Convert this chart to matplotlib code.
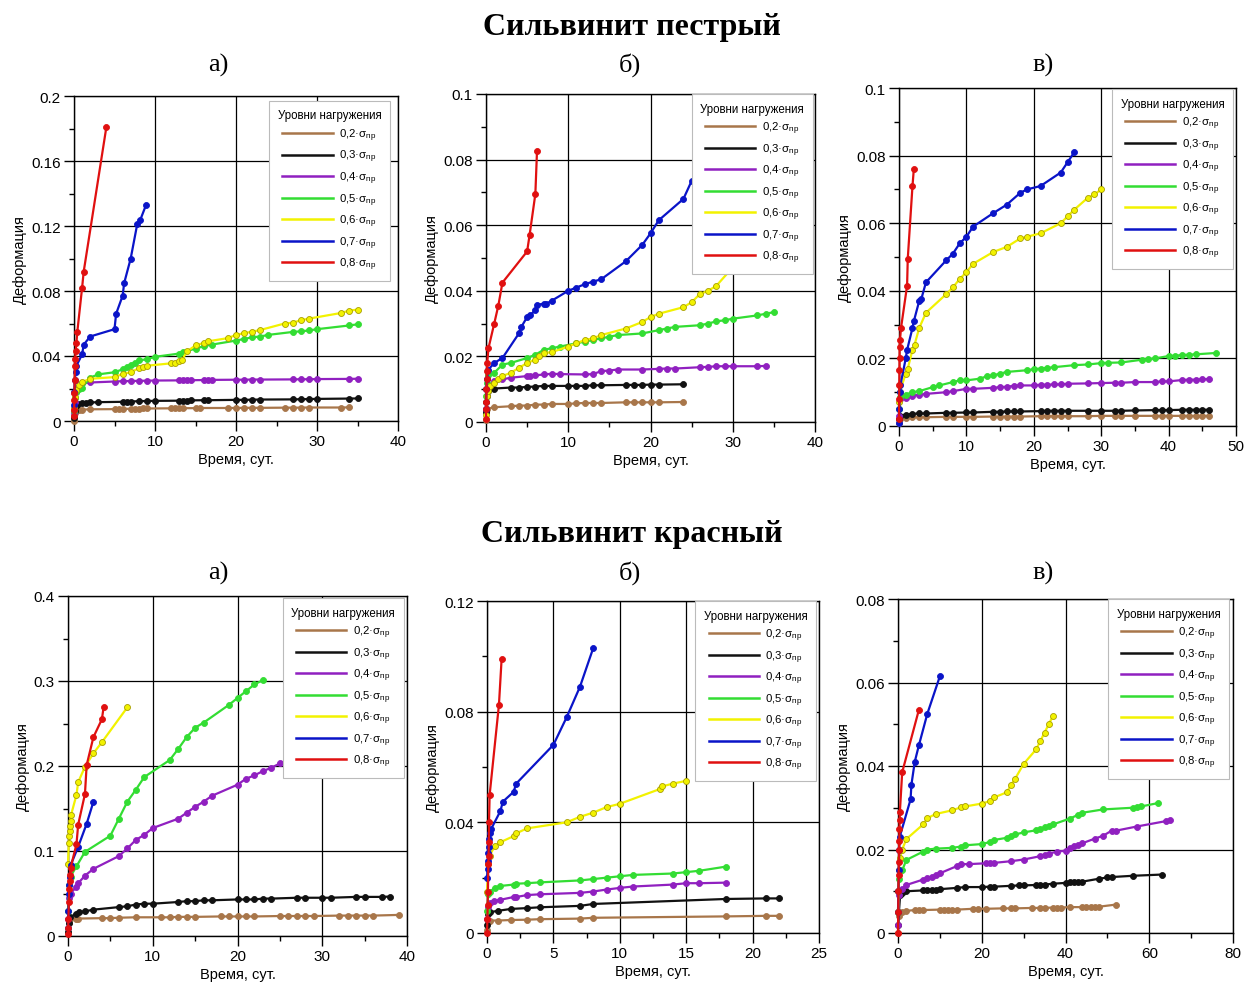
import matplotlib
matplotlib.use("Agg")
import matplotlib.pyplot as plt
from matplotlib.lines import Line2D
from matplotlib.ticker import MultipleLocator, FuncFormatter

plt.rcParams['font.family'] = ['Liberation Sans', 'DejaVu Sans']
plt.rcParams['mathtext.fontset'] = 'custom'
plt.rcParams['mathtext.rm'] = 'Liberation Sans'
plt.rcParams['mathtext.it'] = 'Liberation Sans:italic'
plt.rcParams['mathtext.bf'] = 'Liberation Sans:bold'

# ---------------- data ----------------
levels = ['0,2', '0,3', '0,4', '0,5', '0,6', '0,7', '0,8']
colors = ['#A8764A', '#111111', '#9020C0', '#33DD33', '#F2F200', '#0A14C8', '#E01010']
legend_title = 'Уровни нагружения'
section_titles = ['Сильвинит пестрый', 'Сильвинит красный']
panel_letters = ['а)', 'б)', 'в)']
xlabel_text = 'Время, сут.'
ylabel_text = 'Деформация'

# Сильвинит пестрый, а)
pa_t02 = [0, 0.05, 0.15, 0.3, 0.6, 1, 2, 5, 5.5, 6, 7, 7.5, 8, 8.5, 9, 12, 12.5, 13, 13.5, 15, 15.5, 19, 20, 21, 22, 23, 26, 27, 28, 29, 33, 34]
pa_e02 = [0, 0.003, 0.005, 0.0065, 0.0068, 0.007, 0.0072, 0.0073, 0.0074, 0.0075, 0.0075, 0.0076, 0.0076, 0.0077, 0.0077, 0.0078, 0.0078, 0.0079, 0.0079, 0.0079, 0.008, 0.008, 0.008, 0.0081, 0.0081, 0.0081, 0.0082, 0.0082, 0.0082, 0.0083, 0.0083, 0.0084]
pa_t03 = [0, 0.1, 0.2, 0.5, 1, 1.5, 2, 3, 6, 6.5, 7, 8, 9, 10, 13, 13.5, 14, 14.5, 16, 16.5, 20, 21, 22, 23, 27, 28, 29, 30, 34, 35]
pa_e03 = [0.002, 0.006, 0.009, 0.0105, 0.011, 0.0112, 0.0114, 0.0116, 0.0118, 0.012, 0.012, 0.0122, 0.0123, 0.0124, 0.0125, 0.0126, 0.0126, 0.0127, 0.0128, 0.0128, 0.013, 0.013, 0.0131, 0.0132, 0.0133, 0.0134, 0.0135, 0.0136, 0.0138, 0.0139]
pa_t04 = [0, 0.1, 0.2, 0.5, 1, 2, 5, 6, 7, 8, 9, 10, 13, 13.5, 14, 14.5, 16, 16.5, 17, 20, 21, 22, 23, 27, 28, 29, 30, 34, 35]
pa_e04 = [0.005, 0.012, 0.018, 0.021, 0.0232, 0.0237, 0.0243, 0.0245, 0.0246, 0.0247, 0.0248, 0.0249, 0.025, 0.025, 0.0251, 0.0251, 0.0252, 0.0252, 0.0253, 0.0254, 0.0254, 0.0255, 0.0255, 0.0256, 0.0257, 0.0257, 0.0258, 0.0259, 0.026]
pa_t05 = [0, 0.1, 0.3, 0.6, 1, 2, 3, 5, 6, 6.5, 7, 7.5, 8, 9, 10, 13, 13.5, 15, 16, 17, 20, 21, 22, 23, 24, 27, 28, 29, 30, 34, 35]
pa_e05 = [0.006, 0.014, 0.018, 0.0195, 0.0205, 0.0267, 0.0287, 0.030, 0.0318, 0.033, 0.0345, 0.0355, 0.0373, 0.038, 0.0395, 0.0415, 0.0425, 0.0445, 0.046, 0.047, 0.0495, 0.0505, 0.0515, 0.052, 0.053, 0.0548, 0.0552, 0.0557, 0.0565, 0.0588, 0.0595]
pa_t06 = [0, 0.1, 0.3, 0.6, 1, 2, 5, 6, 7, 8, 8.5, 9, 12, 12.5, 13, 13.3, 14, 15, 16, 16.5, 19, 20, 21, 22, 23, 26, 27, 28, 29, 33, 34, 35]
pa_e06 = [0.008, 0.015, 0.019, 0.022, 0.024, 0.026, 0.027, 0.029, 0.030, 0.0325, 0.033, 0.034, 0.0355, 0.036, 0.037, 0.0375, 0.043, 0.0465, 0.048, 0.049, 0.051, 0.053, 0.054, 0.055, 0.056, 0.060, 0.0605, 0.062, 0.063, 0.0665, 0.068, 0.0685]
pa_t07 = [0, 0.05, 0.1, 0.2, 0.3, 1, 1.2, 2, 5, 5.2, 6, 6.2, 7, 7.8, 8.2, 8.9]
pa_e07 = [0.01, 0.018, 0.025, 0.030, 0.034, 0.041, 0.047, 0.052, 0.0565, 0.066, 0.077, 0.085, 0.100, 0.121, 0.124, 0.133]
pa_t08 = [0, 0.02, 0.04, 0.06, 0.08, 0.1, 0.15, 0.2, 0.3, 0.4, 1, 1.2, 4]
pa_e08 = [0.003, 0.007, 0.013, 0.0175, 0.025, 0.034, 0.038, 0.043, 0.048, 0.0545, 0.082, 0.092, 0.181]

# Сильвинит пестрый, б)
pb_t02 = [0, 0.05, 0.1, 1, 3, 4, 5, 6, 7, 8, 10, 11, 12, 13, 14, 17, 18, 19, 20, 21, 24]
pb_e02 = [0.0005, 0.003, 0.004, 0.0045, 0.0048, 0.005, 0.005, 0.0053, 0.0053, 0.0055, 0.0055, 0.0057, 0.0058, 0.0058, 0.0058, 0.006, 0.006, 0.006, 0.006, 0.006, 0.0061]
pb_t03 = [0, 0.05, 0.1, 0.2, 1, 3, 4, 5, 6, 7, 8, 10, 11, 12, 13, 14, 17, 18, 19, 20, 21, 24]
pb_e03 = [0.003, 0.006, 0.008, 0.0095, 0.0102, 0.0105, 0.0105, 0.0107, 0.0108, 0.011, 0.011, 0.011, 0.011, 0.011, 0.0112, 0.0112, 0.0113, 0.0113, 0.0113, 0.0114, 0.0114, 0.0115]
pb_t04 = [0, 0.1, 0.3, 1, 2, 3, 5, 5.3, 6, 7, 8, 9, 12, 13, 14, 15, 16, 19, 21, 22, 23, 26, 27, 28, 29, 30, 33, 34]
pb_e04 = [0.004, 0.01, 0.011, 0.0125, 0.013, 0.0135, 0.014, 0.014, 0.0142, 0.0145, 0.0147, 0.0146, 0.0145, 0.0146, 0.0155, 0.0157, 0.016, 0.016, 0.0162, 0.0163, 0.0163, 0.0167, 0.0168, 0.017, 0.017, 0.017, 0.017, 0.0171]
pb_t05 = [0, 0.1, 0.2, 1, 2, 3, 5, 6, 7, 8, 9, 11, 12, 13, 14, 15, 16, 19, 21, 22, 23, 26, 27, 28, 29, 30, 33, 34, 35]
pb_e05 = [0.008, 0.012, 0.0142, 0.015, 0.0175, 0.018, 0.0195, 0.0205, 0.022, 0.0225, 0.023, 0.024, 0.0245, 0.025, 0.0255, 0.026, 0.0265, 0.027, 0.028, 0.0285, 0.029, 0.0295, 0.030, 0.0307, 0.031, 0.0315, 0.0325, 0.033, 0.0335]
pb_t06 = [0, 0.1, 0.2, 0.5, 1, 1.5, 2, 3, 4, 5, 6, 6.5, 7, 8, 10, 11, 12, 13, 14, 17, 19, 20, 21, 24, 25, 26, 27, 28, 31]
pb_e06 = [0.002, 0.008, 0.0095, 0.011, 0.012, 0.013, 0.014, 0.015, 0.0165, 0.018, 0.019, 0.020, 0.021, 0.0213, 0.023, 0.024, 0.025, 0.0255, 0.0265, 0.0285, 0.0305, 0.032, 0.033, 0.035, 0.0365, 0.039, 0.040, 0.0415, 0.050]
pb_t07 = [0, 0.05, 0.1, 0.3, 1, 2, 4, 4.3, 5, 5.3, 6, 6.2, 7, 7.3, 8, 10, 11, 12, 13, 14, 17, 19, 20, 21, 24, 25, 27]
pb_e07 = [0.004, 0.01, 0.013, 0.016, 0.018, 0.0195, 0.027, 0.029, 0.032, 0.0325, 0.034, 0.0358, 0.036, 0.036, 0.037, 0.040, 0.041, 0.042, 0.0428, 0.0435, 0.049, 0.054, 0.0575, 0.0615, 0.068, 0.0735, 0.078]
pb_t08 = [0, 0.02, 0.04, 0.06, 0.08, 0.1, 0.15, 0.3, 1, 1.5, 2, 5, 5.3, 6, 6.2]
pb_e08 = [0.001, 0.004, 0.006, 0.01, 0.013, 0.0155, 0.018, 0.0225, 0.030, 0.0355, 0.0425, 0.052, 0.057, 0.0695, 0.0825]

# Сильвинит пестрый, в)
pv_t02 = [0, 0.1, 1, 2, 3, 4, 7, 8, 10, 11, 14, 15, 16, 17, 18, 21, 22, 23, 24, 25, 28, 30, 32, 33, 35, 38, 39, 40, 42, 43, 44, 45, 46]
pv_e02 = [0.001, 0.0022, 0.0025, 0.0026, 0.0026, 0.0026, 0.0027, 0.0027, 0.0027, 0.0027, 0.0028, 0.0028, 0.0028, 0.0028, 0.0028, 0.0029, 0.0029, 0.0029, 0.0029, 0.0029, 0.0029, 0.003, 0.003, 0.003, 0.003, 0.003, 0.003, 0.003, 0.003, 0.003, 0.003, 0.003, 0.003]
pv_t03 = [0, 0.1, 1, 2, 3, 4, 7, 8, 10, 11, 14, 15, 16, 17, 18, 21, 22, 23, 24, 25, 28, 30, 32, 33, 35, 38, 39, 40, 42, 43, 44, 45, 46]
pv_e03 = [0.002, 0.003, 0.0034, 0.0036, 0.0037, 0.0037, 0.0039, 0.0039, 0.004, 0.004, 0.0042, 0.0042, 0.0043, 0.0043, 0.0043, 0.0044, 0.0045, 0.0045, 0.0045, 0.0045, 0.0045, 0.0045, 0.0045, 0.0045, 0.0046, 0.0047, 0.0047, 0.0047, 0.0048, 0.0048, 0.0048, 0.0048, 0.0048]
pv_t04 = [0, 0.1, 1, 2, 3, 4, 7, 8, 10, 11, 14, 15, 16, 17, 18, 20, 21, 22, 23, 24, 25, 28, 30, 32, 33, 35, 38, 39, 40, 42, 43, 44, 45, 46]
pv_e04 = [0.003, 0.008, 0.0082, 0.009, 0.0093, 0.0095, 0.010, 0.0103, 0.011, 0.011, 0.0113, 0.0115, 0.0116, 0.0119, 0.012, 0.012, 0.0122, 0.0122, 0.0123, 0.0123, 0.0125, 0.0126, 0.0127, 0.0128, 0.0128, 0.013, 0.013, 0.0132, 0.0132, 0.0136, 0.0137, 0.0137, 0.0138, 0.0139]
pv_t05 = [0, 0.1, 1, 2, 3, 5, 6, 8, 9, 10, 12, 13, 14, 15, 16, 19, 20, 21, 22, 23, 26, 28, 30, 31, 33, 36, 37, 38, 40, 41, 42, 43, 44, 47]
pv_e05 = [0.005, 0.0085, 0.0093, 0.010, 0.0103, 0.0115, 0.012, 0.013, 0.0135, 0.0135, 0.014, 0.0147, 0.015, 0.0155, 0.016, 0.0165, 0.0168, 0.017, 0.0172, 0.0174, 0.018, 0.0182, 0.0186, 0.0187, 0.0188, 0.0196, 0.0198, 0.020, 0.0207, 0.0208, 0.021, 0.0211, 0.0212, 0.0216]
pv_t06 = [0, 0.1, 1, 1.3, 2, 2.3, 3, 4, 7, 8, 9, 10, 11, 14, 16, 18, 19, 21, 24, 25, 26, 28, 29, 30]
pv_e06 = [0.007, 0.010, 0.0155, 0.017, 0.0225, 0.024, 0.029, 0.0335, 0.039, 0.041, 0.0435, 0.0455, 0.048, 0.0515, 0.053, 0.0555, 0.056, 0.057, 0.060, 0.062, 0.064, 0.0675, 0.0685, 0.070]
pv_t07 = [0, 0.05, 0.1, 0.2, 1, 1.2, 2, 2.2, 3, 3.3, 4, 7, 8, 9, 10, 11, 14, 16, 18, 19, 21, 24, 25, 26]
pv_e07 = [0.001, 0.005, 0.01, 0.012, 0.020, 0.0225, 0.029, 0.031, 0.037, 0.0375, 0.0425, 0.049, 0.051, 0.054, 0.056, 0.059, 0.063, 0.0655, 0.069, 0.070, 0.071, 0.075, 0.078, 0.081]
pv_t08 = [0, 0.02, 0.04, 0.06, 0.08, 0.1, 0.15, 0.3, 1.2, 1.3, 2, 2.2]
pv_e08 = [0.002, 0.008, 0.012, 0.0165, 0.020, 0.0235, 0.0255, 0.029, 0.0415, 0.0495, 0.071, 0.076]

# Сильвинит красный, а)
ka_t02 = [0, 0.1, 0.2, 1, 1.2, 4, 5, 6, 8, 11, 12, 13, 14, 15, 18, 19, 20, 21, 22, 25, 26, 27, 28, 29, 32, 33, 34, 35, 36, 39]
ka_e02 = [0.005, 0.015, 0.02, 0.0204, 0.0205, 0.021, 0.021, 0.0215, 0.022, 0.022, 0.022, 0.0225, 0.0225, 0.0225, 0.023, 0.023, 0.023, 0.023, 0.023, 0.0235, 0.0235, 0.0235, 0.0235, 0.0235, 0.024, 0.024, 0.024, 0.024, 0.024, 0.0248]
ka_t03 = [0, 0.1, 0.2, 1, 1.3, 2, 3, 6, 7, 8, 9, 10, 13, 14, 15, 16, 17, 20, 21, 22, 23, 24, 27, 28, 30, 31, 34, 35, 37, 38]
ka_e03 = [0.005, 0.015, 0.022, 0.0263, 0.028, 0.029, 0.031, 0.034, 0.035, 0.037, 0.038, 0.038, 0.040, 0.041, 0.041, 0.042, 0.042, 0.043, 0.043, 0.043, 0.044, 0.044, 0.045, 0.045, 0.045, 0.045, 0.046, 0.046, 0.046, 0.0464]
ka_t04 = [0, 0.1, 0.3, 1, 1.2, 2, 3, 6, 7, 8, 9, 10, 13, 14, 15, 16, 17, 20, 21, 22, 23, 24, 25, 26.5]
ka_e04 = [0.02, 0.045, 0.05, 0.058, 0.062, 0.071, 0.079, 0.094, 0.103, 0.113, 0.119, 0.127, 0.138, 0.145, 0.152, 0.158, 0.165, 0.178, 0.185, 0.189, 0.194, 0.198, 0.203, 0.208]
ka_t05 = [0, 0.1, 0.3, 1, 2, 5, 6, 7, 8, 9, 12, 13, 14, 15, 16, 19, 20, 21, 22, 23]
ka_e05 = [0.03, 0.06, 0.07, 0.082, 0.099, 0.118, 0.138, 0.158, 0.172, 0.187, 0.207, 0.220, 0.234, 0.245, 0.251, 0.272, 0.280, 0.288, 0.296, 0.301]
ka_t06 = [0, 0.1, 0.15, 0.2, 0.25, 0.3, 0.35, 1, 1.2, 2, 3, 4, 7]
ka_e06 = [0.085, 0.11, 0.118, 0.124, 0.13, 0.135, 0.142, 0.166, 0.181, 0.199, 0.215, 0.228, 0.269]
ka_t07 = [0, 0.05, 0.1, 0.15, 0.2, 0.3, 1.2, 2.2, 3]
ka_e07 = [0.01, 0.03, 0.05, 0.06, 0.07, 0.083, 0.105, 0.132, 0.158]
ka_t08 = [0, 0.02, 0.05, 0.1, 0.15, 0.2, 0.25, 0.3, 1, 1.2, 2, 2.2, 3, 4, 4.2]
ka_e08 = [0.002, 0.01, 0.02, 0.04, 0.055, 0.065, 0.072, 0.08, 0.108, 0.131, 0.167, 0.201, 0.234, 0.255, 0.269]

# Сильвинит красный, б)
kb_t02 = [0, 0.1, 0.2, 0.8, 1.8, 3, 4, 7, 8, 18, 21, 22]
kb_e02 = [0.001, 0.004, 0.0045, 0.0045, 0.0047, 0.0048, 0.005, 0.0052, 0.0055, 0.006, 0.0062, 0.0062]
kb_t03 = [0, 0.1, 0.2, 0.8, 1.8, 3, 4, 7, 8, 18, 21, 22]
kb_e03 = [0.003, 0.007, 0.0075, 0.008, 0.0087, 0.009, 0.0093, 0.0098, 0.0105, 0.0123, 0.0125, 0.0125]
kb_t04 = [0, 0.1, 0.2, 0.5, 1, 2, 2.2, 3, 4, 7, 8, 9, 10, 11, 14, 15, 16, 18]
kb_e04 = [0.005, 0.0095, 0.011, 0.0115, 0.012, 0.013, 0.013, 0.0137, 0.014, 0.0145, 0.015, 0.0157, 0.0163, 0.0168, 0.0175, 0.018, 0.018, 0.0182]
kb_t05 = [0, 0.1, 0.2, 0.6, 1, 2, 2.2, 3, 4, 7, 8, 9, 10, 11, 14, 15, 16, 18]
kb_e05 = [0.008, 0.014, 0.015, 0.0163, 0.017, 0.0175, 0.0178, 0.018, 0.0183, 0.019, 0.0195, 0.020, 0.0205, 0.021, 0.0215, 0.022, 0.0225, 0.024]
kb_t06 = [0, 0.1, 0.2, 0.6, 1, 2, 2.2, 3, 6, 7, 8, 9, 10, 13, 13.2, 14, 15]
kb_e06 = [0.015, 0.025, 0.028, 0.0315, 0.0328, 0.035, 0.036, 0.0378, 0.040, 0.042, 0.0435, 0.0455, 0.0467, 0.052, 0.053, 0.054, 0.055]
kb_t07 = [0, 0.05, 0.08, 0.1, 0.12, 0.15, 0.2, 0.3, 1, 1.2, 2, 2.2, 5, 6, 7, 8]
kb_e07 = [0.02, 0.023, 0.026, 0.029, 0.031, 0.034, 0.036, 0.0375, 0.044, 0.0475, 0.051, 0.054, 0.068, 0.078, 0.089, 0.103]
kb_t08 = [0, 0.03, 0.05, 0.07, 0.1, 0.12, 0.14, 0.15, 0.2, 0.9, 1.1]
kb_e08 = [0.0, 0.005, 0.01, 0.015, 0.025, 0.028, 0.033, 0.040, 0.050, 0.0825, 0.099]

# Сильвинит красный, в)
kv_t02 = [0, 0.2, 1, 2, 4, 5, 6, 10, 11, 12, 13, 14, 18, 19, 21, 25, 27, 28, 32, 34, 35, 37, 38, 39, 41, 44, 45, 46, 47, 48, 52]
kv_e02 = [0.0, 0.004, 0.005, 0.0053, 0.0055, 0.0055, 0.0055, 0.0056, 0.0056, 0.0056, 0.0056, 0.0056, 0.0058, 0.0058, 0.0058, 0.0059, 0.0059, 0.0059, 0.006, 0.006, 0.006, 0.0061, 0.0061, 0.0061, 0.0062, 0.0062, 0.0062, 0.0062, 0.0063, 0.0063, 0.0068]
kv_t03 = [0, 0.5, 1, 2, 6, 7, 8, 9, 10, 14, 16, 20, 22, 23, 27, 29, 30, 33, 34, 35, 37, 40, 41, 42, 43, 44, 48, 50, 51, 56, 63]
kv_e03 = [0.002, 0.009, 0.0095, 0.010, 0.0102, 0.0103, 0.0103, 0.0104, 0.0105, 0.0108, 0.011, 0.011, 0.0111, 0.0111, 0.0113, 0.0114, 0.0114, 0.0115, 0.0116, 0.0116, 0.0118, 0.012, 0.0121, 0.0122, 0.0122, 0.0123, 0.013, 0.0133, 0.0134, 0.0137, 0.014]
kv_t04 = [0, 0.2, 1, 2, 6, 7, 8, 9, 10, 14, 15, 17, 21, 22, 23, 27, 30, 34, 35, 36, 38, 40, 41, 42, 43, 44, 47, 49, 51, 52, 57, 64, 65]
kv_e04 = [0.002, 0.009, 0.0105, 0.0115, 0.0128, 0.0132, 0.0135, 0.0138, 0.0143, 0.016, 0.0165, 0.0165, 0.0167, 0.0168, 0.0168, 0.0172, 0.0176, 0.0184, 0.0188, 0.019, 0.0195, 0.0197, 0.0203, 0.0208, 0.021, 0.0215, 0.0226, 0.0233, 0.0245, 0.0245, 0.0255, 0.0268, 0.0271]
kv_t05 = [0, 0.2, 1, 2, 6, 7, 9, 13, 15, 16, 20, 22, 23, 26, 27, 28, 30, 33, 34, 35, 36, 37, 41, 43, 44, 49, 56, 57, 58, 62]
kv_e05 = [0.005, 0.013, 0.015, 0.0175, 0.0195, 0.020, 0.0202, 0.0204, 0.0207, 0.021, 0.0213, 0.0218, 0.0223, 0.0228, 0.0233, 0.0236, 0.0241, 0.0246, 0.0249, 0.0253, 0.0257, 0.026, 0.0274, 0.0283, 0.0288, 0.0296, 0.030, 0.0302, 0.0303, 0.0311]
kv_t06 = [0, 0.1, 0.2, 0.5, 1, 2, 6, 7, 9, 13, 15, 16, 20, 22, 23, 26, 27, 28, 30, 33, 34, 35, 36, 37]
kv_e06 = [0.005, 0.01, 0.015, 0.018, 0.020, 0.0225, 0.026, 0.0275, 0.0285, 0.0294, 0.0301, 0.0303, 0.031, 0.0316, 0.0325, 0.0337, 0.0355, 0.037, 0.0405, 0.044, 0.046, 0.048, 0.050, 0.052]
kv_t07 = [0, 0.1, 0.2, 0.3, 0.4, 3, 3.2, 4, 5, 7, 10]
kv_e07 = [0.005, 0.01, 0.015, 0.02, 0.023, 0.032, 0.0355, 0.041, 0.045, 0.0525, 0.0615]
kv_t08 = [0, 0.05, 0.1, 0.15, 0.2, 0.25, 0.3, 0.35, 0.4, 0.45, 1, 5]
kv_e08 = [0.0, 0.005, 0.01, 0.014, 0.017, 0.02, 0.022, 0.025, 0.027, 0.029, 0.0385, 0.0535]

# axis ranges and ticks per panel: (xmax, xmajor, ymax, ymajor)
pa_axis = (40, 10, 0.2, 0.04)
pb_axis = (40, 10, 0.1, 0.02)
pv_axis = (50, 10, 0.1, 0.02)
ka_axis = (40, 10, 0.4, 0.1)
kb_axis = (25, 5, 0.12, 0.04)
kv_axis = (80, 20, 0.08, 0.02)

panels = [
    (pa_axis, [(pa_t02, pa_e02), (pa_t03, pa_e03), (pa_t04, pa_e04), (pa_t05, pa_e05), (pa_t06, pa_e06), (pa_t07, pa_e07), (pa_t08, pa_e08)]),
    (pb_axis, [(pb_t02, pb_e02), (pb_t03, pb_e03), (pb_t04, pb_e04), (pb_t05, pb_e05), (pb_t06, pb_e06), (pb_t07, pb_e07), (pb_t08, pb_e08)]),
    (pv_axis, [(pv_t02, pv_e02), (pv_t03, pv_e03), (pv_t04, pv_e04), (pv_t05, pv_e05), (pv_t06, pv_e06), (pv_t07, pv_e07), (pv_t08, pv_e08)]),
    (ka_axis, [(ka_t02, ka_e02), (ka_t03, ka_e03), (ka_t04, ka_e04), (ka_t05, ka_e05), (ka_t06, ka_e06), (ka_t07, ka_e07), (ka_t08, ka_e08)]),
    (kb_axis, [(kb_t02, kb_e02), (kb_t03, kb_e03), (kb_t04, kb_e04), (kb_t05, kb_e05), (kb_t06, kb_e06), (kb_t07, kb_e07), (kb_t08, kb_e08)]),
    (kv_axis, [(kv_t02, kv_e02), (kv_t03, kv_e03), (kv_t04, kv_e04), (kv_t05, kv_e05), (kv_t06, kv_e06), (kv_t07, kv_e07), (kv_t08, kv_e08)]),
]

# ---------------- layout (pixels) ----------------
W, H = 1244, 987
boxes = [(74, 97, 398, 422), (486, 95, 815, 423), (899, 89, 1236, 427),
         (68, 597, 407, 937), (487, 602, 819, 934), (898, 600, 1233, 934)]
legend_anchor = [(0.602, 0.985), (0.626, 1.0), (0.632, 0.997),
                 (0.634, 0.994), (0.627, 1.0), (0.627, 1.0)]

fig = plt.figure(figsize=(W / 100, H / 100), dpi=100)

serif = ['Liberation Serif', 'DejaVu Serif']
fig.text(632 / W, 1 - 28 / H, section_titles[0], ha='center', va='center',
         fontsize=23, fontweight='bold', family=serif)
fig.text(632 / W, 1 - 535 / H, section_titles[1], ha='center', va='center',
         fontsize=23, fontweight='bold', family=serif)
for cx, lt in zip([218, 630, 1043], panel_letters):
    fig.text(cx / W, 1 - 65 / H, lt, ha='center', va='center', fontsize=19, family=serif)
    fig.text(cx / W, 1 - 573 / H, lt, ha='center', va='center', fontsize=19, family=serif)

fmt = FuncFormatter(lambda v, p: ('%g' % round(v, 6)))

for (axis, series), box, anc in zip(panels, boxes, legend_anchor):
    x0, y0, x1, y1 = box
    ax = fig.add_axes([x0 / W, 1 - y1 / H, (x1 - x0) / W, (y1 - y0) / H])
    xmax, xmaj, ymax, ymaj = axis
    ax.set_xlim(0, xmax)
    ax.set_ylim(0, ymax)
    ax.xaxis.set_major_locator(MultipleLocator(xmaj))
    ax.xaxis.set_minor_locator(MultipleLocator(xmaj / 2))
    ax.yaxis.set_major_locator(MultipleLocator(ymaj))
    ax.yaxis.set_minor_locator(MultipleLocator(ymaj / 2))
    ax.xaxis.set_major_formatter(fmt)
    ax.yaxis.set_major_formatter(fmt)
    ax.tick_params(which='major', direction='out', length=7.5, width=1, pad=2,
                   labelsize=11, color='black')
    ax.tick_params(which='minor', direction='out', length=3.5, width=1, color='black')
    ax.grid(True, which='major', color='black', linewidth=0.9)
    ax.set_axisbelow(True)
    for sp in ax.spines.values():
        sp.set_linewidth(1.0)
    ax.set_xlabel(xlabel_text, fontsize=10.5, labelpad=3)
    ax.set_ylabel(ylabel_text, fontsize=10.5, labelpad=3)

    for (t, e), c in zip(series, colors):
        mec = '#A89E00' if c == '#F2F200' else c
        ax.plot(t, e, color=c, lw=1.6, marker='o', markersize=4.3,
                markerfacecolor=c, markeredgecolor=mec, markeredgewidth=0.6,
                clip_on=False, zorder=3)

    handles = [Line2D([], [], color=c, lw=1.8) for c in colors]
    labels = [lv + '·$\\mathrm{σ}_{\\mathrm{пр}}$' for lv in levels]
    leg = ax.legend(handles, labels, title=legend_title, loc='upper left',
                    bbox_to_anchor=anc, borderaxespad=0, fontsize=8.2,
                    title_fontsize=8.3, handlelength=4.4, handletextpad=0.6,
                    labelspacing=0.45, borderpad=0.75, fancybox=False,
                    framealpha=1, edgecolor='#BBBBBB')
    leg.get_frame().set_linewidth(0.8)
    leg.set_zorder(10)

fig.savefig('out.png', dpi=100)
